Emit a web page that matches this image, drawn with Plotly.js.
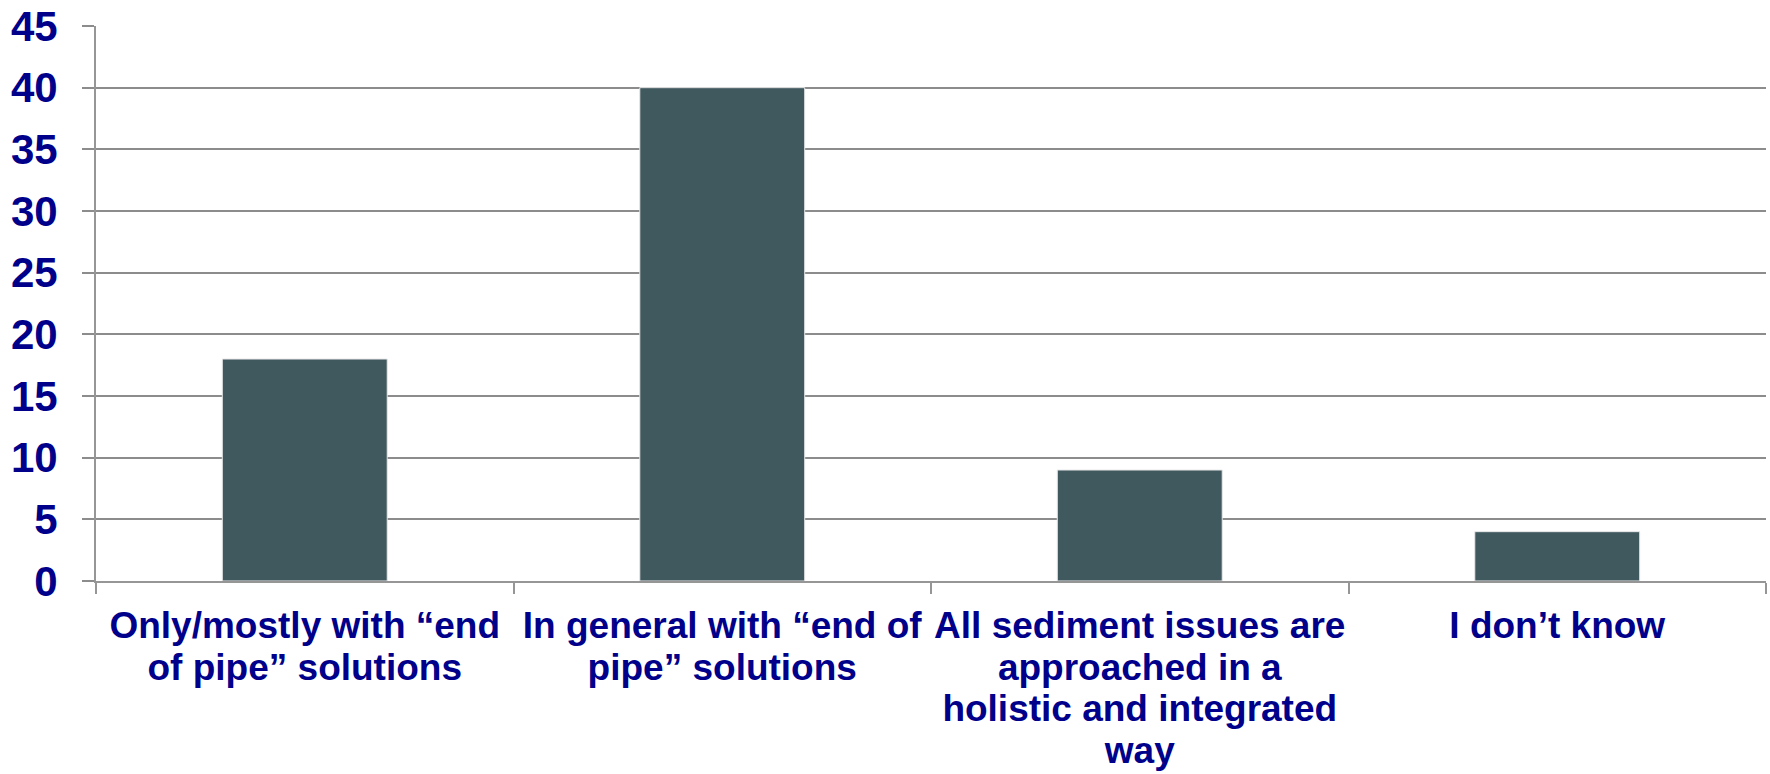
<!DOCTYPE html>
<html>
<head>
<meta charset="utf-8">
<script src="https://cdn.plot.ly/plotly-3.0.1.min.js"></script>
<style>
html, body { margin: 0; padding: 0; background: #ffffff; }
#chart { width: 1770px; height: 774px; }
</style>
</head>
<body>
<div id="chart"></div>
<script>
const categories = [
  "Only/mostly with “end<br>of pipe” solutions",
  "In general with “end of<br>pipe” solutions",
  "All sediment issues are<br>approached in a<br>holistic and integrated<br>way",
  "I don’t know"
];
const values = [18, 40, 9, 4];
const yTicks = [0, 5, 10, 15, 20, 25, 30, 35, 40, 45];

const textColor = "#00008B";
const xfont = { family: "Liberation Sans, Arial, sans-serif", size: 37, color: textColor, weight: "bold" };
const yfont = { family: "Liberation Sans, Arial, sans-serif", size: 42, color: textColor, weight: "bold" };

const trace = {
  type: "bar",
  x: categories,
  y: values,
  marker: { color: "#40595F", line: { color: "#e8e8e8", width: 1 } },
  hoverinfo: "skip"
};

const layout = {
  width: 1770,
  height: 774,
  margin: { l: 96, r: 4, t: 26, b: 193 },
  paper_bgcolor: "#ffffff",
  plot_bgcolor: "#ffffff",
  bargap: 0.605,
  showlegend: false,
  font: xfont,
  xaxis: {
    type: "category",
    showgrid: false,
    showline: true,
    linecolor: "#969696",
    linewidth: 2,
    ticks: "outside",
    tickson: "boundaries",
    ticklen: 11,
    tickwidth: 2,
    tickcolor: "#969696",
    tickfont: xfont,
    tickangle: 0,
    ticklabelstandoff: 11,
    fixedrange: true
  },
  yaxis: {
    range: [0, 45],
    tickvals: yTicks,
    ticktext: yTicks.map(String),
    showgrid: true,
    gridcolor: "#8C8C8C",
    gridwidth: 2,
    showline: true,
    linecolor: "#969696",
    linewidth: 2,
    ticks: "outside",
    ticklen: 12,
    tickwidth: 2,
    tickcolor: "#8C8C8C",
    tickfont: yfont,
    ticklabelstandoff: 16,
    zeroline: false,
    fixedrange: true
  }
};

Plotly.newPlot("chart", [trace], layout, { displayModeBar: false, staticPlot: true }).then(function (gd) {
  // tighten the line spacing of the multi-line category labels (Plotly uses 1.3em)
  gd.querySelectorAll(".xtick text tspan.line").forEach(function (t) {
    const dy = parseFloat(t.getAttribute("dy"));
    if (!isNaN(dy)) t.setAttribute("dy", (dy / 1.3 * 1.12) + "em");
  });
});
</script>
</body>
</html>
